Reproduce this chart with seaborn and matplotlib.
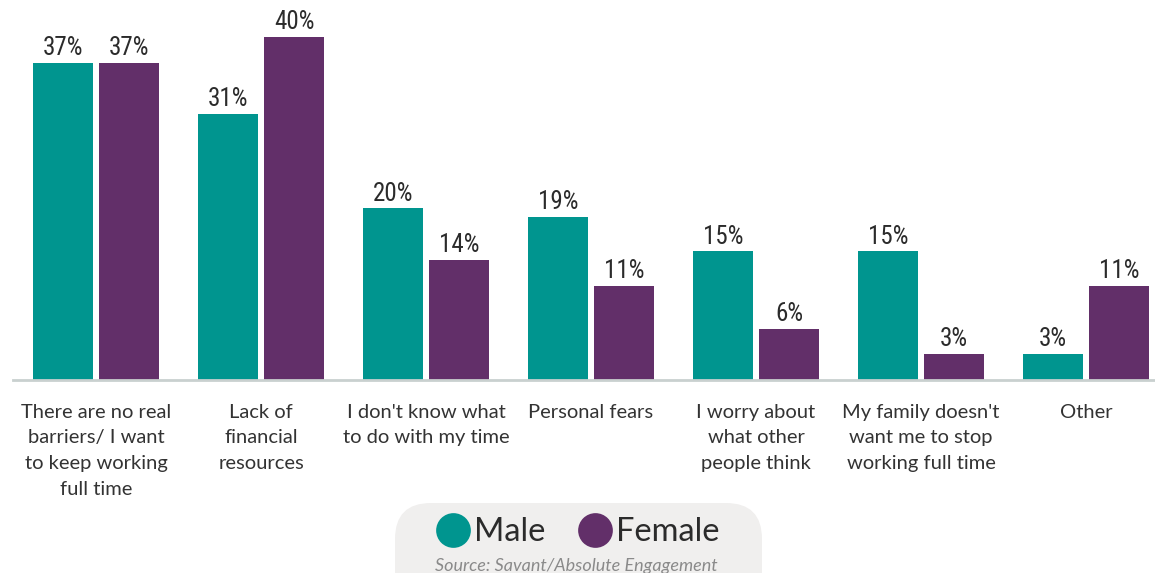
import matplotlib
matplotlib.use("Agg")
import matplotlib.pyplot as plt
from matplotlib.patches import FancyBboxPatch
from matplotlib.lines import Line2D
from matplotlib import font_manager
import seaborn as sns
import pandas as pd

categories = [
    "There are no real\nbarriers/ I want\nto keep working\nfull time",
    "Lack of\nfinancial\nresources",
    "I don't know what\nto do with my time",
    "Personal fears",
    "I worry about\nwhat other\npeople think",
    "My family doesn't\nwant me to stop\nworking full time",
    "Other",
]
male = [37, 31, 20, 19, 15, 15, 3]
female = [37, 40, 14, 11, 6, 3, 11]
groups = ["Male", "Female"]
colors = {"Male": "#00958f", "Female": "#622f69"}

df = pd.DataFrame({
    "category": categories * 2,
    "group": ["Male"] * len(categories) + ["Female"] * len(categories),
    "value": male + female,
})

sns.set_style("white")
plt.rcParams["font.family"] = ["Lato", "DejaVu Sans"]

# narrow face for the value labels, if one is available
names = {f.name for f in font_manager.fontManager.ttflist}
narrow = None
for cand in ["Liberation Sans Narrow", "DejaVu Sans Condensed", "Roboto Condensed",
             "Open Sans Condensed"]:
    if cand in names:
        narrow = cand
        break
val_font = dict(family=[narrow or "DejaVu Sans", "DejaVu Sans"])
if narrow is None:
    val_font["stretch"] = "condensed"

fig = plt.figure(figsize=(11.55, 5.73), dpi=100)

# pixel-space background layer for the legend panel
bg = fig.add_axes([0, 0, 1, 1], zorder=0)
bg.set_xlim(0, 1155)
bg.set_ylim(573, 0)
bg.axis("off")
bg.add_patch(FancyBboxPatch((395, 503), 367, 110,
                            boxstyle="round,pad=0,rounding_size=36",
                            facecolor="#f0efee", edgecolor="none"))

ax = fig.add_axes([13 / 1155, 193 / 573, 1142 / 1155, 380 / 573], zorder=1)
ax.patch.set_alpha(0)

sns.barplot(data=df, x="category", y="value", hue="group", order=categories,
            hue_order=groups, palette=colors, width=0.8, gap=0.09,
            legend=False, ax=ax, saturation=1, linewidth=0, edgecolor="none")

for cont in ax.containers:
    ax.bar_label(cont, labels=[f"{v:.0f}%" for v in cont.datavalues], padding=2,
                 fontsize=18, color="#2b2b2b", **val_font)

ax.set_xlim(-0.503, 6.418)
ax.set_ylim(0, 44.3)
ax.set_xlabel("")
ax.set_ylabel("")
ax.set_yticks([])
ax.set_xticks(range(len(categories)))
ax.set_xticklabels(categories, linespacing=1.62)
ax.tick_params(axis="x", length=0, pad=17, labelsize=14.5, labelcolor="#333333")
for s in ["top", "right", "left"]:
    ax.spines[s].set_visible(False)
ax.spines["bottom"].set_color("#c9d0cf")
ax.spines["bottom"].set_linewidth(2)

handles = [Line2D([], [], marker="o", linestyle="", markersize=25,
                  markerfacecolor=colors[g], markeredgecolor="none") for g in groups]
fig.legend(handles, groups, loc="center", bbox_to_anchor=(578 / 1155, 1 - 532 / 573),
           ncol=2, frameon=False, fontsize=23.5, handlelength=1.05, handletextpad=0.12,
           columnspacing=1.0, labelcolor="#2b2b2b")

fig.text(576 / 1155, 1 - 566 / 573, "Source: Savant/Absolute Engagement",
         ha="center", va="center", fontsize=13, style="italic", color="#8a8a8a")

fig.savefig("out.png", dpi=100)
